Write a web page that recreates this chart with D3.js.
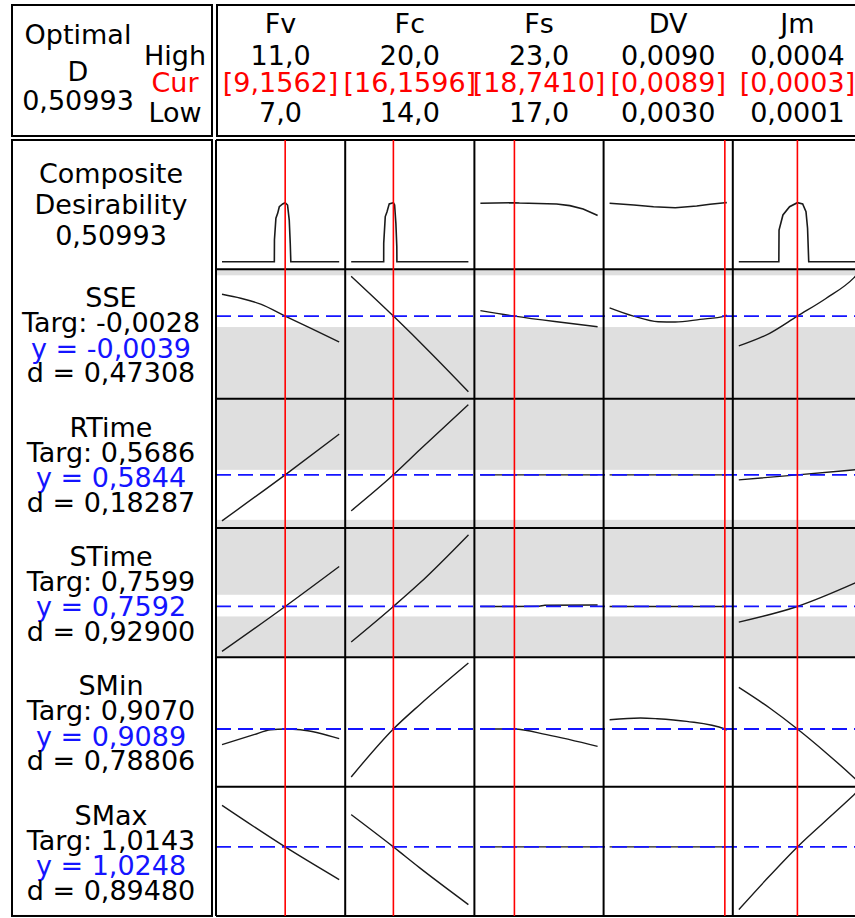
<!DOCTYPE html>
<html>
<head>
<meta charset="utf-8">
<script src="https://cdn.jsdelivr.net/npm/d3@7"></script>
<style>
  body { margin: 0; background: #fff; }
  svg text { font-family: "DejaVu Sans", sans-serif; font-size: 27px; }
</style>
</head>
<body>
<div id="chart"></div>
<script>
// Factors (columns)
var factors = ['Fv', 'Fc', 'Fs', 'DV', 'Jm'];
var highLabels = ['11,0', '20,0', '23,0', '0,0090', '0,0004'];
var curLabels = ['[9,1562]', '[16,1596]', '[18,7410]', '[0,0089]', '[0,0003]'];
var lowLabels = ['7,0', '14,0', '17,0', '0,0030', '0,0001'];
var factorLow = [7, 14, 17, 0.003, 0.0001];
var factorHigh = [11, 20, 23, 0.009, 0.0004];
var factorCur = [9.1562, 16.1596, 18.741, 0.0089, 0.00025];

// Responses (rows)
var responses = ['SSE', 'RTime', 'STime', 'SMin', 'SMax'];
var targLabels = ['-0,0028', '0,5686', '0,7599', '0,9070', '1,0143'];
var yLabels = ['-0,0039', '0,5844', '0,7592', '0,9089', '1,0248'];
var dLabels = ['0,47308', '0,18287', '0,92900', '0,78806', '0,89480'];
var yCur = [-0.0039, 0.5844, 0.7592, 0.9089, 1.0248];
var yLow = [-0.0116, 0.5514, 0.7178, 0.90373, 0.9617];
var yHigh = [0.0002, 0.6335, 0.8261, 0.91547, 1.0791];
var bandLow = [-0.0050, 0.5529, 0.75, 0.89, 0.914];
var bandHigh = [0.0002, 0.5879, 0.77, 0.916, 1.114];

var optimalD = '0,50993';

// Composite desirability vs each factor
var compositeCurves = [
    [[7, 0], [8.786, 0], [8.79, 0.19], [8.84, 0.377], [8.9, 0.418], [8.956, 0.475], [9.07, 0.499], [9.1562, 0.5099], [9.237, 0.49], [9.295, 0.36], [9.329, 0.16], [9.349, 0], [11, 0]],
    [[14, 0], [15.663, 0], [15.665, 0.16], [15.744, 0.39], [15.83, 0.43], [15.947, 0.5], [16.1596, 0.5099], [16.222, 0.49], [16.288, 0.33], [16.335, 0.13], [16.34, 0], [20, 0]],
    [[17, 0.505], [18.741, 0.5099], [19.0, 0.507], [20.9, 0.499], [21.58, 0.485], [22.26, 0.456], [22.95, 0.404], [23, 0.40]],
    [[0.003, 0.505], [0.00424, 0.49], [0.00525, 0.475], [0.00636, 0.467], [0.00746, 0.481], [0.00814, 0.496], [0.0089, 0.5099], [0.009, 0.511]],
    [[0.0001, 0], [0.0002025, 0], [0.000203, 0.274], [0.000213, 0.404], [0.00023, 0.475], [0.00025, 0.5099], [0.0002635, 0.499], [0.000272, 0.432], [0.000276, 0.289], [0.000279, 0], [0.0004, 0]]
];

var sseCurves = [
    [[7, -0.0017], [7.64, -0.0021], [8.32, -0.0027], [9.1562, -0.0039], [10.02, -0.0051], [11, -0.0065]],
    [[14, 0.0001], [16.1596, -0.0039], [18.02, -0.0075], [20, -0.0115]],
    [[17, -0.00335], [18.741, -0.0039], [20.81, -0.00445], [23, -0.00497]],
    [[0.003, -0.00307], [0.00422, -0.0039], [0.00549, -0.00447], [0.00636, -0.0045], [0.00763, -0.00423], [0.0089, -0.0039], [0.009, -0.0038]],
    [[0.0001, -0.0069], [0.000179, -0.00563], [0.00025, -0.0039], [0.000323, -0.00213], [0.000395, -0.00003], [0.0004, 0.00018]]
];

var rtimeCurves = [
    [[7, 0.5522], [9.1562, 0.5844], [11, 0.6129]],
    [[14, 0.5592], [16.1596, 0.5844], [17.51, 0.6019], [20, 0.6335]],
    [[17, 0.5844], [23, 0.5844]],
    [[0.003, 0.5844], [0.009, 0.5844]],
    [[0.0001, 0.5809], [0.00025, 0.5844], [0.0004, 0.588]]
];

var stimeCurves = [
    [[7, 0.7177], [9.1562, 0.7592], [11, 0.7961]],
    [[14, 0.7264], [16.1596, 0.7592], [17.51, 0.7808], [20, 0.8253]],
    [[17, 0.7592], [18.741, 0.7592], [20.0, 0.7594], [20.3, 0.7603], [23, 0.7606]],
    [[0.003, 0.7592], [0.009, 0.7592]],
    [[0.0001, 0.7448], [0.00025, 0.7592], [0.0004, 0.7812]]
];

var sminCurves = [
    [[7, 0.90733], [8.09, 0.90833], [8.66, 0.90883], [9.1562, 0.9089], [9.68, 0.90883], [11, 0.90793]],
    [[14, 0.9041], [16.1596, 0.9089], [17.51, 0.91133], [20, 0.9155]],
    [[17, 0.9089], [18.741, 0.9089], [20.39, 0.90833], [23, 0.90716]],
    [[0.003, 0.90983], [0.00458, 0.9100], [0.00543, 0.90993], [0.00695, 0.90966], [0.0089, 0.9089], [0.009, 0.90878]],
    [[0.0001, 0.91306], [0.000179, 0.9110], [0.00025, 0.9089], [0.000323, 0.90653], [0.000395, 0.90403], [0.0004, 0.90385]]
];

var smaxCurves = [
    [[7, 1.0664], [9.1562, 1.0248], [11, 0.9921]],
    [[14, 1.0571], [16.1596, 1.0248], [17.51, 1.0038], [20, 0.9671]],
    [[17, 1.0248], [23, 1.0248]],
    [[0.003, 1.0248], [0.009, 1.0248]],
    [[0.0001, 0.9621], [0.00017, 0.9921], [0.00025, 1.0248], [0.000349, 1.0604], [0.000395, 1.0771], [0.0004, 1.0789]]
];

var responseCurves = [sseCurves, rtimeCurves, stimeCurves, sminCurves, smaxCurves];

// Layout
var width = 855, height = 918;
var plotLeft = 216, colW = 129.2, plotRight = plotLeft + colW * factors.length;
var bodyTop = 140, rowH = 129.33;
var bodyBottom = bodyTop + rowH * 6;
var RED = '#ff0000', BLUE = '#1414ff', GREY = '#dfdfdf';

function colLeft(j) { return plotLeft + j * colW; }
function rowTop(i) { return bodyTop + i * rowH; }

var svg = d3.select('#chart').append('svg')
    .attr('width', width)
    .attr('height', height);

svg.append('rect').attr('width', width).attr('height', height).attr('fill', '#fff');

// Scales
var xScales = factors.map(function(f, j) {
    return d3.scaleLinear().domain([factorLow[j], factorHigh[j]])
        .range([colLeft(j) + 6, colLeft(j) + colW - 6]);
});
var dScale = d3.scaleLinear().domain([0, 1])
    .range([rowTop(1) - 7.6, rowTop(0) + 6]);
var yScales = responses.map(function(r, i) {
    return d3.scaleLinear().domain([yLow[i], yHigh[i]])
        .range([rowTop(i + 2) - 6, rowTop(i + 1) + 6]);
});

// ---- Header ----
var header = svg.append('g');
header.append('rect').attr('x', 12).attr('y', 5).attr('width', 200).attr('height', 131)
    .attr('fill', 'none').attr('stroke', '#000').attr('stroke-width', 2);
header.append('rect').attr('x', 217).attr('y', 5).attr('width', 700).attr('height', 131)
    .attr('fill', 'none').attr('stroke', '#000').attr('stroke-width', 2);

header.append('text').attr('x', 78).attr('y', 44).attr('text-anchor', 'middle').text('Optimal');
header.append('text').attr('x', 78).attr('y', 81).attr('text-anchor', 'middle').text('D');
header.append('text').attr('x', 78).attr('y', 110).attr('text-anchor', 'middle').text(optimalD);
header.append('text').attr('x', 175).attr('y', 65).attr('text-anchor', 'middle').text('High');
header.append('text').attr('x', 175).attr('y', 91.7).attr('text-anchor', 'middle').attr('fill', RED).text('Cur');
header.append('text').attr('x', 175).attr('y', 121.7).attr('text-anchor', 'middle').text('Low');

factors.forEach(function(f, j) {
    var cx = colLeft(j) + colW / 2;
    header.append('text').attr('x', cx).attr('y', 33).attr('text-anchor', 'middle').text(f);
    header.append('text').attr('x', cx).attr('y', 65).attr('text-anchor', 'middle').text(highLabels[j]);
    header.append('text').attr('x', cx).attr('y', 91.7).attr('text-anchor', 'middle')
        .attr('fill', RED).text(curLabels[j]);
    header.append('text').attr('x', cx).attr('y', 121.7).attr('text-anchor', 'middle').text(lowLabels[j]);
});

// ---- Left label box ----
var labels = svg.append('g');
labels.append('rect').attr('x', 12).attr('y', bodyTop).attr('width', 200).attr('height', bodyBottom - bodyTop)
    .attr('fill', 'none').attr('stroke', '#000').attr('stroke-width', 2);

var lx = 111;
labels.append('text').attr('x', lx).attr('y', 183).attr('text-anchor', 'middle').text('Composite');
labels.append('text').attr('x', lx).attr('y', 214).attr('text-anchor', 'middle').text('Desirability');
labels.append('text').attr('x', lx).attr('y', 245).attr('text-anchor', 'middle').text(optimalD);

responses.forEach(function(r, i) {
    var t = rowTop(i + 1);
    labels.append('text').attr('x', lx).attr('y', t + 38).attr('text-anchor', 'middle').text(r);
    labels.append('text').attr('x', lx).attr('y', t + 63).attr('text-anchor', 'middle').text('Targ: ' + targLabels[i]);
    labels.append('text').attr('x', lx).attr('y', t + 88.5).attr('text-anchor', 'middle')
        .attr('fill', BLUE).text('y = ' + yLabels[i]);
    labels.append('text').attr('x', lx).attr('y', t + 113).attr('text-anchor', 'middle').text('d = ' + dLabels[i]);
});

// ---- Plot cells ----
var plot = svg.append('g');

// grey shading outside the acceptable band, white inside
responses.forEach(function(r, i) {
    var top = rowTop(i + 1), bottom = rowTop(i + 2);
    plot.append('rect').attr('x', plotLeft).attr('y', top)
        .attr('width', plotRight - plotLeft).attr('height', bottom - top).attr('fill', GREY);
    var yb1 = Math.max(top, Math.min(bottom, yScales[i](bandHigh[i])));
    var yb2 = Math.max(top, Math.min(bottom, yScales[i](bandLow[i])));
    plot.append('rect').attr('x', plotLeft).attr('y', yb1)
        .attr('width', plotRight - plotLeft).attr('height', yb2 - yb1).attr('fill', '#fff');
});

// composite desirability curves
compositeCurves.forEach(function(pts, j) {
    var line = d3.line()
        .x(function(d) { return xScales[j](d[0]); })
        .y(function(d) { return dScale(d[1]); });
    plot.append('path').attr('d', line(pts))
        .attr('fill', 'none').attr('stroke', '#1a1a1a').attr('stroke-width', 1.6);
});

// response curves
responseCurves.forEach(function(curves, i) {
    curves.forEach(function(pts, j) {
        var line = d3.line()
            .curve(d3.curveMonotoneX)
            .x(function(d) { return xScales[j](d[0]); })
            .y(function(d) { return yScales[i](d[1]); });
        plot.append('path').attr('d', line(pts))
            .attr('fill', 'none').attr('stroke', '#1a1a1a').attr('stroke-width', 1.4);
    });
});

// current response value (blue dashed)
responses.forEach(function(r, i) {
    var y = yScales[i](yCur[i]);
    plot.append('line').attr('x1', plotLeft).attr('x2', plotRight)
        .attr('y1', y).attr('y2', y)
        .attr('stroke', BLUE).attr('stroke-width', 1.8).attr('stroke-dasharray', '15,7');
});

// grid
var grid = svg.append('g').attr('stroke', '#000').attr('stroke-width', 2);
d3.range(7).forEach(function(i) {
    grid.append('line').attr('x1', plotLeft).attr('x2', plotRight)
        .attr('y1', rowTop(i)).attr('y2', rowTop(i));
});
d3.range(factors.length + 1).forEach(function(j) {
    grid.append('line').attr('x1', colLeft(j)).attr('x2', colLeft(j))
        .attr('y1', bodyTop).attr('y2', bodyBottom);
});

// current factor settings (red)
factors.forEach(function(f, j) {
    var x = xScales[j](factorCur[j]);
    svg.append('line').attr('x1', x).attr('x2', x)
        .attr('y1', bodyTop).attr('y2', bodyBottom)
        .attr('stroke', RED).attr('stroke-width', 1.6);
});
</script>
</body>
</html>
